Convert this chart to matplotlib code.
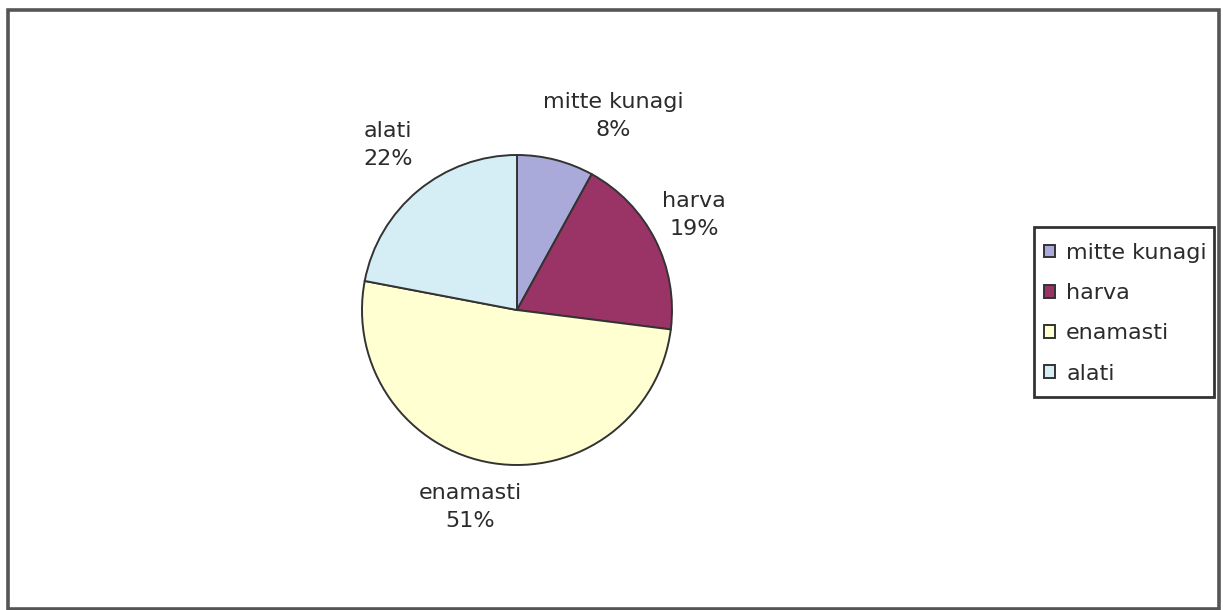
import matplotlib
matplotlib.use("Agg")
import matplotlib.pyplot as plt
from matplotlib.patches import Rectangle

# Survey answer shares
categories = ["mitte kunagi", "harva", "enamasti", "alati"]
shares = [8, 19, 51, 22]
colors = ["#A9A9DA", "#9B3466", "#FFFFD2", "#D5EEF5"]

W, H = 1223, 610
fig = plt.figure(figsize=(W / 100, H / 100), dpi=100)
ax = fig.add_axes([0, 0, 1, 1])
ax.set_xlim(0, W)
ax.set_ylim(0, H)
ax.set_aspect("equal")
ax.axis("off")

# outer chart frame
ax.add_patch(Rectangle((8, 1.5), 1211, 598.5, fill=False,
                       edgecolor="#555555", linewidth=2.6, zorder=5))

cx, cy, r = 517, H - 310, 155
wedges, _ = ax.pie(shares, colors=colors, startangle=90, counterclock=False,
                   center=(cx, cy), radius=r,
                   wedgeprops=dict(edgecolor="#333333", linewidth=1.4))
ax.set_xlim(0, W)
ax.set_ylim(0, H)

fs = 16
txt = dict(fontsize=fs, family="DejaVu Sans", color="#2b2b2b",
           ha="center", va="center", linespacing=1.45)
label_pos = [(613, 116), (694, 215), (470, 507), (388, 145)]
for name, val, (x, y) in zip(categories, shares, label_pos):
    ax.text(x, H - y, f"{name}\n{val}%", **txt)

# legend box
ax.add_patch(Rectangle((1034, H - 397), 180, 170, facecolor="white",
                       edgecolor="#333333", linewidth=2.0, zorder=3))
leg = ax.legend(wedges, categories, loc="upper left",
                bbox_to_anchor=(1044 / W, 1 - 243 / H),
                bbox_transform=fig.transFigure,
                prop=dict(family="DejaVu Sans", size=fs),
                labelcolor="#2b2b2b", frameon=False,
                handlelength=0.5, handleheight=0.5, handletextpad=0.5,
                labelspacing=0.91, borderpad=0, borderaxespad=0)
leg.set_zorder(4)

fig.savefig("out.png", dpi=100, facecolor="white")
